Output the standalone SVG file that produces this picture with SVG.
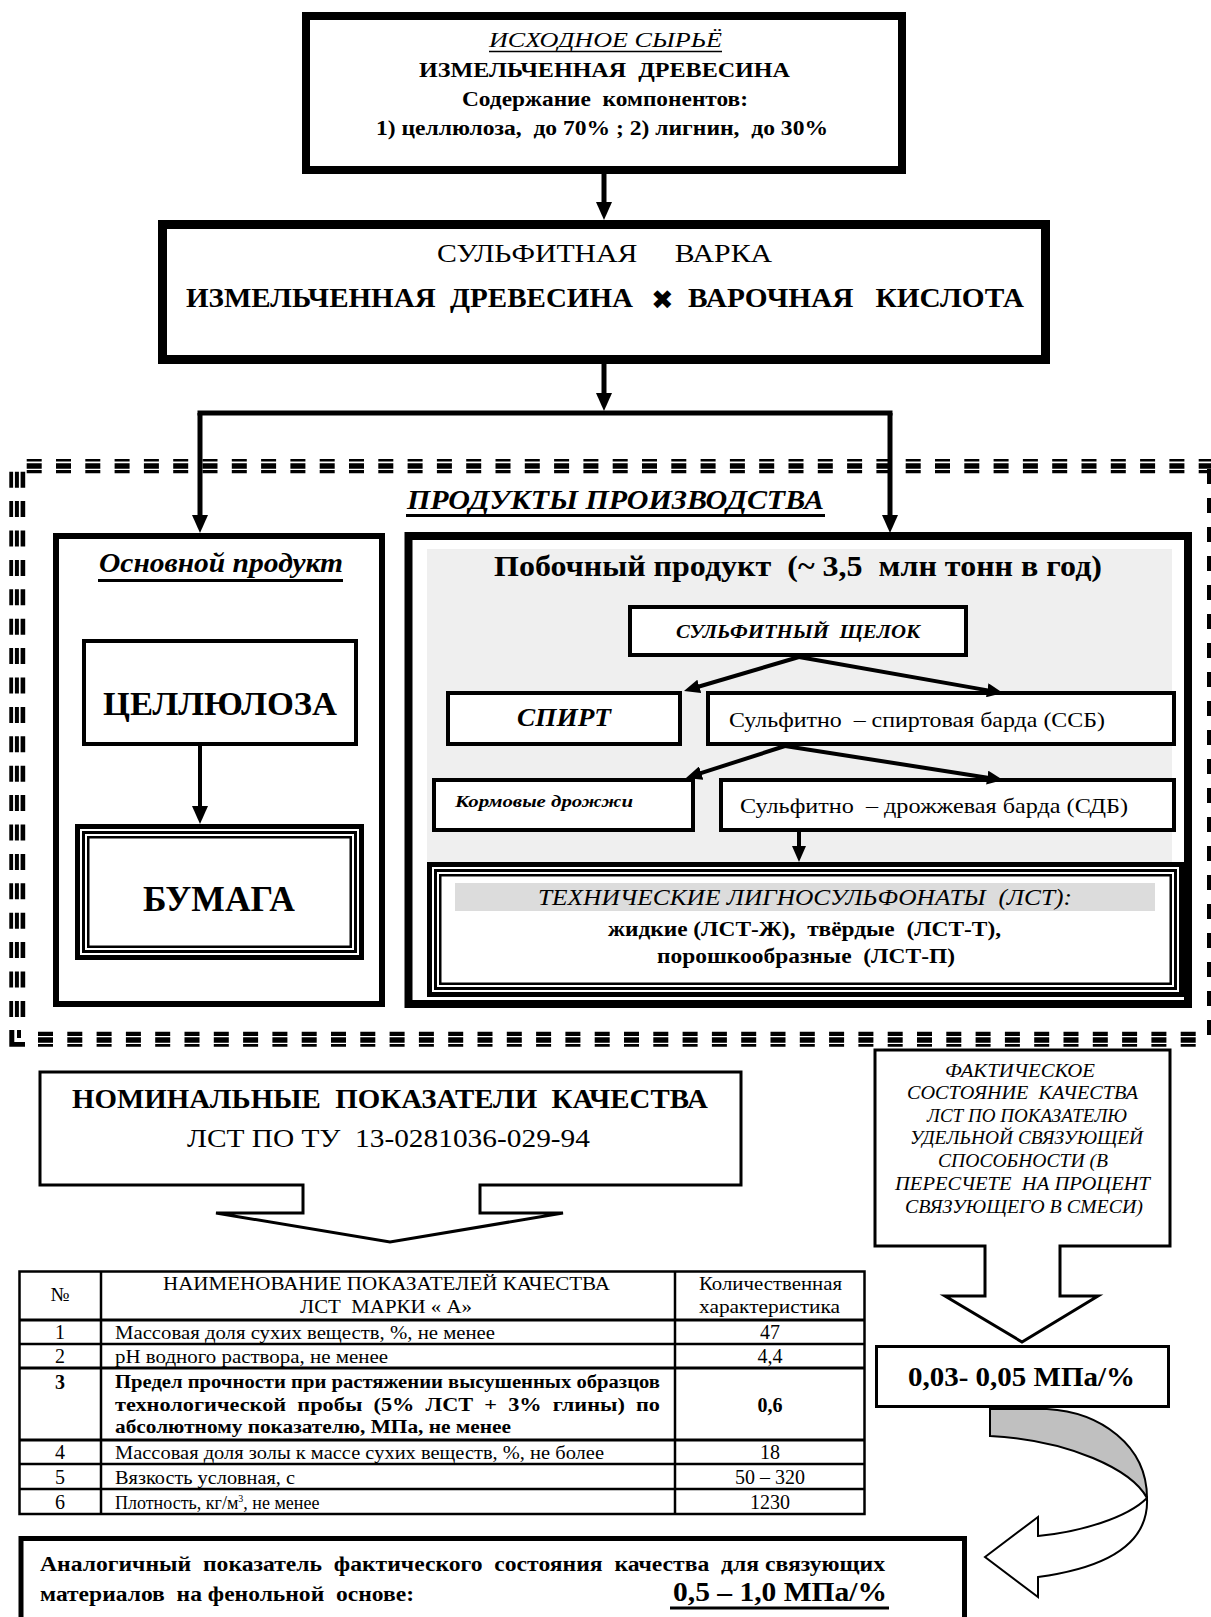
<svg xmlns="http://www.w3.org/2000/svg" width="1211" height="1617" viewBox="0 0 1211 1617">
<style>
text { font-family: "Liberation Serif", "Times New Roman", serif; fill: #000; white-space: pre; }
.bx { fill: #fff; stroke: #000; }
.nf { fill: none; stroke: #000; }
.b { font-weight: bold; }
.i { font-style: italic; }
.c { text-anchor: middle; }
.cn { fill: none; stroke: #000; }
.ul { stroke: #000; }
.td { font-size: 18px; }
.v { font-size: 20px; }
</style>
<defs>
<marker id="ah" markerUnits="userSpaceOnUse" markerWidth="18" markerHeight="18" viewBox="0 0 18 18" refX="2" refY="9" orient="auto"><path d="M0,1 L18,9 L0,17 Z" fill="#000"/></marker>
<marker id="as" markerUnits="userSpaceOnUse" markerWidth="16" markerHeight="14" viewBox="0 0 16 14" refX="2" refY="7" orient="auto"><path d="M0,0 L16,7 L0,14 Z" fill="#000"/></marker>
</defs>
<rect width="1211" height="1617" fill="#fff"/>

<!-- dashed frame -->
<g id="frame" fill="none" stroke="#000">
<line x1="26.7" y1="460.3" x2="1211" y2="460.3" stroke-width="2.6" stroke-dasharray="15 14.3"/>
<line x1="26.7" y1="466" x2="1211" y2="466" stroke-width="5.6" stroke-dasharray="15 14.3"/>
<line x1="26.7" y1="471.7" x2="1211" y2="471.7" stroke-width="3.2" stroke-dasharray="15 14.3"/>
<line x1="38" y1="1033.8" x2="1197" y2="1033.8" stroke-width="4.2" stroke-dasharray="15 14.3"/>
<line x1="38" y1="1040" x2="1197" y2="1040" stroke-width="5.4" stroke-dasharray="15 14.3"/>
<line x1="38" y1="1045.4" x2="1197" y2="1045.4" stroke-width="2.7" stroke-dasharray="15 14.3"/>
<line x1="11.2" y1="471.7" x2="11.2" y2="1017" stroke-width="3.8" stroke-dasharray="16 13.4"/>
<line x1="16.9" y1="471.7" x2="16.9" y2="1017" stroke-width="4" stroke-dasharray="16 13.4"/>
<line x1="22.9" y1="471.7" x2="22.9" y2="1017" stroke-width="4.6" stroke-dasharray="16 13.4"/>
<line x1="1209" y1="469" x2="1209" y2="1036" stroke-width="4" stroke-dasharray="15 14"/>
<path d="M9.3,1030 h5 v12 h10.7 v4.7 h-15.7 Z M17,1030 h4 v8 h-4 Z" fill="#000" stroke="none"/>
</g>

<!-- top box -->
<g id="raw-material">
<rect class="bx" x="306" y="16" width="596" height="154" stroke-width="8"/>
<text class="i" x="489" y="47" font-size="20" textLength="233" lengthAdjust="spacingAndGlyphs">ИСХОДНОЕ СЫРЬЁ</text>
<line class="ul" x1="489" y1="51.5" x2="722" y2="51.5" stroke-width="1.5"/>
<text class="b" x="419" y="77" font-size="21" textLength="371" lengthAdjust="spacingAndGlyphs">ИЗМЕЛЬЧЕННАЯ  ДРЕВЕСИНА</text>
<text class="b" x="462" y="106" font-size="20" textLength="286" lengthAdjust="spacingAndGlyphs">Содержание  компонентов:</text>
<text class="b" x="376" y="135" font-size="20" textLength="452" lengthAdjust="spacingAndGlyphs">1) целлюлоза,  до 70% ; 2) лигнин,  до 30%</text>
</g>

<!-- sulfite cooking -->
<g id="sulfite-cooking">
<rect class="bx" x="162.5" y="224.5" width="883" height="135" stroke-width="9"/>
<text x="437" y="262" font-size="26" textLength="335" lengthAdjust="spacingAndGlyphs">СУЛЬФИТНАЯ     ВАРКА</text>
<text class="b" x="186" y="307" font-size="27" textLength="447" lengthAdjust="spacingAndGlyphs">ИЗМЕЛЬЧЕННАЯ  ДРЕВЕСИНА</text>
<text x="651" y="309" font-size="27" style="font-family:'DejaVu Sans',sans-serif">✖</text>
<text class="b" x="688" y="307" font-size="27" textLength="336" lengthAdjust="spacingAndGlyphs">ВАРОЧНАЯ   КИСЛОТА</text>
</g>

<!-- products title -->
<g id="products-title">
<text class="b i" x="407" y="509" font-size="28" textLength="417" lengthAdjust="spacingAndGlyphs">ПРОДУКТЫ ПРОИЗВОДСТВА</text>
<line class="ul" x1="406" y1="515.5" x2="825" y2="515.5" stroke-width="3"/>
</g>

<!-- main product -->
<g id="main-product">
<rect class="bx" x="56" y="536" width="326" height="468" stroke-width="6"/>
<text class="b i" x="99" y="572" font-size="27" textLength="244" lengthAdjust="spacingAndGlyphs">Основной продукт</text>
<line class="ul" x1="98" y1="580.5" x2="343" y2="580.5" stroke-width="3"/>
</g>
<g id="cellulose">
<rect class="bx" x="84" y="641" width="272" height="103" stroke-width="4"/>
<text class="b" x="103" y="715" font-size="34" textLength="234" lengthAdjust="spacingAndGlyphs">ЦЕЛЛЮЛОЗА</text>
</g>
<g id="paper">
<rect class="bx" x="77.5" y="826.5" width="284" height="131" stroke-width="5"/>
<rect class="nf" x="83.5" y="832.5" width="272" height="119" stroke-width="3"/>
<rect class="nf" x="88.25" y="837.25" width="262.5" height="109.5" stroke-width="2.5"/>
<text class="b" x="143" y="911" font-size="35" textLength="152" lengthAdjust="spacingAndGlyphs">БУМАГА</text>
</g>

<!-- by-product -->
<g id="by-product">
<rect class="bx" x="408.5" y="536" width="779.5" height="468" stroke-width="8"/>
<rect x="427" y="549" width="745" height="313" fill="#efefef"/>
<text class="b" x="494" y="576" font-size="29" textLength="608" lengthAdjust="spacingAndGlyphs">Побочный продукт  (~ 3,5  млн тонн в год)</text>
</g>
<g id="sulfite-liquor">
<rect class="bx" x="630" y="607" width="336" height="48" stroke-width="4"/>
<text class="b i" x="676" y="638" font-size="18" textLength="244" lengthAdjust="spacingAndGlyphs">СУЛЬФИТНЫЙ  ЩЕЛОК</text>
</g>
<g id="alcohol">
<rect class="bx" x="448" y="693" width="232" height="51" stroke-width="4"/>
<text class="b i" x="517" y="726" font-size="26" textLength="94" lengthAdjust="spacingAndGlyphs">СПИРТ</text>
</g>
<g id="ssb">
<rect class="bx" x="708" y="693" width="466" height="51" stroke-width="4"/>
<text x="729" y="727" font-size="22" textLength="376" lengthAdjust="spacingAndGlyphs">Сульфитно  – спиртовая барда (ССБ)</text>
</g>
<g id="yeast">
<rect class="bx" x="434" y="780" width="259" height="50" stroke-width="4"/>
<text class="b i" x="455" y="807" font-size="16" textLength="178" lengthAdjust="spacingAndGlyphs">Кормовые дрожжи</text>
</g>
<g id="sdb">
<rect class="bx" x="721" y="780" width="453" height="50" stroke-width="4"/>
<text x="740" y="813" font-size="22" textLength="388" lengthAdjust="spacingAndGlyphs">Сульфитно  – дрожжевая барда (СДБ)</text>
</g>
<g id="lst">
<rect class="bx" x="429.5" y="864.5" width="752" height="130" stroke-width="5"/>
<rect class="nf" x="435.5" y="870.5" width="740" height="118" stroke-width="3"/>
<rect class="nf" x="440.25" y="875.25" width="730.5" height="108.5" stroke-width="2.5"/>
<rect x="455" y="883" width="700" height="28" fill="#dcdcdc"/>
<text class="i" x="538" y="905" font-size="23" textLength="534" lengthAdjust="spacingAndGlyphs">ТЕХНИЧЕСКИЕ ЛИГНОСУЛЬФОНАТЫ  (ЛСТ):</text>
<text class="b" x="608" y="936" font-size="20" textLength="393" lengthAdjust="spacingAndGlyphs">жидкие (ЛСТ-Ж),  твёрдые  (ЛСТ-Т),</text>
<text class="b" x="657" y="963" font-size="20" textLength="298" lengthAdjust="spacingAndGlyphs">порошкообразные  (ЛСТ-П)</text>
</g>

<!-- nominal indicators callout -->
<g id="nominal">
<path class="bx" d="M40,1072 H741 V1185 H480 V1213 H563 L390,1242 L216,1213 H303 V1185 H40 Z" stroke-width="3"/>
<text class="b" x="72" y="1108" font-size="27" textLength="636" lengthAdjust="spacingAndGlyphs">НОМИНАЛЬНЫЕ  ПОКАЗАТЕЛИ  КАЧЕСТВА</text>
<text x="187" y="1147" font-size="25" textLength="403" lengthAdjust="spacingAndGlyphs">ЛСТ ПО ТУ  13-0281036-029-94</text>
</g>

<!-- actual state callout -->
<g id="actual-state">
<path class="bx" d="M875,1050 H1170 V1246 H1060 V1296 H1098 L1022,1342 L945,1296 H985 V1246 H875 Z" stroke-width="3"/>
<g class="i" font-size="19">
<text x="945" y="1077" textLength="150" lengthAdjust="spacingAndGlyphs">ФАКТИЧЕСКОЕ</text>
<text x="907" y="1099" textLength="231" lengthAdjust="spacingAndGlyphs">СОСТОЯНИЕ  КАЧЕСТВА</text>
<text x="927" y="1122" textLength="200" lengthAdjust="spacingAndGlyphs">ЛСТ ПО ПОКАЗАТЕЛЮ</text>
<text x="910" y="1144" textLength="233" lengthAdjust="spacingAndGlyphs">УДЕЛЬНОЙ СВЯЗУЮЩЕЙ</text>
<text x="938" y="1167" textLength="170" lengthAdjust="spacingAndGlyphs">СПОСОБНОСТИ (В</text>
<text x="895" y="1190" textLength="255" lengthAdjust="spacingAndGlyphs">ПЕРЕСЧЕТЕ  НА ПРОЦЕНТ</text>
<text x="905" y="1213" textLength="238" lengthAdjust="spacingAndGlyphs">СВЯЗУЮЩЕГО В СМЕСИ)</text>
</g>
</g>
<g id="actual-value">
<rect class="bx" x="876.5" y="1346.5" width="292" height="60" stroke-width="3"/>
<text class="b" x="908" y="1386" font-size="28" textLength="227" lengthAdjust="spacingAndGlyphs">0,03- 0,05 МПа/%</text>
</g>
<g id="curved-arrow">
<path d="M990,1409 L1047,1409 C1100,1412 1147,1445 1147,1498 C1132,1470 1070,1440 990,1436 Z" fill="#c0c0c0" stroke="#000" stroke-width="2"/>
<path d="M985,1557 L1038,1517 L1038,1536 C1080,1532 1127,1518 1147,1498 Q1150,1562 1038,1577 L1038,1597 Z" fill="#fff" stroke="#000" stroke-width="2"/>
</g>

<!-- table -->
<g id="table">
<rect class="nf" x="19.5" y="1271.5" width="845" height="242.5" stroke-width="2.5"/>
<g stroke="#000" stroke-width="2.5">
<line x1="101" y1="1271.5" x2="101" y2="1514"/>
<line x1="675" y1="1271.5" x2="675" y2="1514"/>
<line x1="19.5" y1="1320" x2="864.5" y2="1320" stroke-width="3"/>
<line x1="19.5" y1="1344" x2="864.5" y2="1344"/>
<line x1="19.5" y1="1368" x2="864.5" y2="1368" stroke-width="3"/>
<line x1="19.5" y1="1440" x2="864.5" y2="1440" stroke-width="3"/>
<line x1="19.5" y1="1464" x2="864.5" y2="1464"/>
<line x1="19.5" y1="1489" x2="864.5" y2="1489"/>
</g>
<g class="td">
<text class="c v" x="60" y="1301">№</text>
<text x="163" y="1290" textLength="447" lengthAdjust="spacingAndGlyphs">НАИМЕНОВАНИЕ ПОКАЗАТЕЛЕЙ КАЧЕСТВА</text>
<text x="300" y="1313" textLength="172" lengthAdjust="spacingAndGlyphs">ЛСТ  МАРКИ « А»</text>
<text x="699" y="1290" textLength="143" lengthAdjust="spacingAndGlyphs">Количественная</text>
<text x="699" y="1313" textLength="141" lengthAdjust="spacingAndGlyphs">характеристика</text>

<text class="c v" x="60" y="1339">1</text>
<text x="115" y="1339" textLength="380" lengthAdjust="spacingAndGlyphs">Массовая доля сухих веществ, %, не менее</text>
<text class="c v" x="770" y="1339">47</text>

<text class="c v" x="60" y="1363">2</text>
<text x="115" y="1363" textLength="273" lengthAdjust="spacingAndGlyphs">pH водного раствора, не менее</text>
<text class="c v" x="770" y="1363">4,4</text>

<text class="c b v" x="60" y="1389">3</text>
<text class="b" x="115" y="1388" textLength="545" lengthAdjust="spacingAndGlyphs">Предел прочности при растяжении высушенных образцов</text>
<text class="b" x="115" y="1411" textLength="545" lengthAdjust="spacingAndGlyphs">технологической  пробы  (5%  ЛСТ  +  3%  глины)  по</text>
<text class="b" x="115" y="1433" textLength="396" lengthAdjust="spacingAndGlyphs">абсолютному показателю, МПа, не менее</text>
<text class="c b v" x="770" y="1412">0,6</text>

<text class="c v" x="60" y="1459">4</text>
<text x="115" y="1459" textLength="489" lengthAdjust="spacingAndGlyphs">Массовая доля золы к массе сухих веществ, %, не более</text>
<text class="c v" x="770" y="1459">18</text>

<text class="c v" x="60" y="1484">5</text>
<text x="115" y="1484" textLength="180" lengthAdjust="spacingAndGlyphs">Вязкость условная, с</text>
<text class="c v" x="770" y="1484">50 – 320</text>

<text class="c v" x="60" y="1509">6</text>
<text x="115" y="1509">Плотность, кг/м<tspan font-size="10" dy="-7">3</tspan><tspan dy="7">, не менее</tspan></text>
<text class="c v" x="770" y="1509">1230</text>
</g>
</g>

<!-- phenolic comparison -->
<g id="phenolic">
<rect class="bx" x="21" y="1538.5" width="943.5" height="120" stroke-width="5"/>
<text class="b" x="40" y="1571" font-size="20" textLength="845" lengthAdjust="spacingAndGlyphs">Аналогичный  показатель  фактического  состояния  качества  для связующих</text>
<text class="b" x="40" y="1601" font-size="20" textLength="374" lengthAdjust="spacingAndGlyphs">материалов  на фенольной  основе:</text>
<text class="b" x="673" y="1601" font-size="27" textLength="214" lengthAdjust="spacingAndGlyphs">0,5 – 1,0 МПа/%</text>
<line class="ul" x1="670" y1="1608" x2="889" y2="1608" stroke-width="3"/>
</g>

<!-- connectors -->
<g id="connectors" class="cn">
<line x1="604" y1="174" x2="604" y2="204" stroke-width="5" marker-end="url(#ah)"/>
<line x1="604" y1="364" x2="604" y2="395" stroke-width="5" marker-end="url(#ah)"/>
<line x1="197.5" y1="413" x2="892.5" y2="413" stroke-width="5"/>
<line x1="200" y1="413" x2="200" y2="517" stroke-width="5" marker-end="url(#ah)"/>
<line x1="890" y1="413" x2="890" y2="517" stroke-width="5" marker-end="url(#ah)"/>
<line x1="200" y1="746" x2="200" y2="808" stroke-width="4" marker-end="url(#ah)"/>
<line x1="799" y1="657" x2="697.4" y2="687.0" stroke-width="4" marker-end="url(#as)"/>
<line x1="799" y1="657" x2="989.2" y2="690.6" stroke-width="4" marker-end="url(#as)"/>
<line x1="785" y1="746" x2="699.3" y2="773.7" stroke-width="4" marker-end="url(#as)"/>
<line x1="785" y1="746" x2="989.2" y2="777.9" stroke-width="4" marker-end="url(#as)"/>
<line x1="799" y1="832" x2="799" y2="848" stroke-width="4" marker-end="url(#as)"/>
</g>
</svg>
